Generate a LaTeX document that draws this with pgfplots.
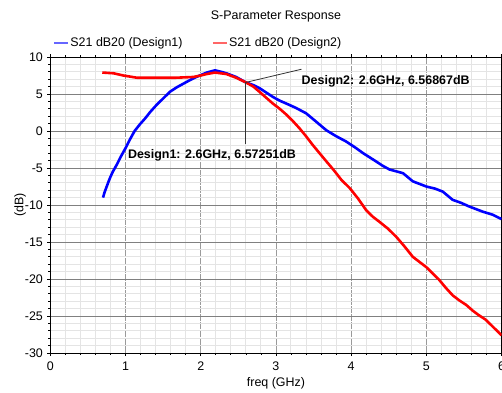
\documentclass[border=0pt]{standalone}
\usepackage{pgfplots}
\pgfplotsset{compat=1.18}
\usepackage{fontspec}
\setmainfont{Liberation Sans}
\definecolor{cblue}{RGB}{0,0,255}
\definecolor{cred}{RGB}{255,0,0}
\definecolor{minorgrid}{RGB}{228,228,228}
\definecolor{majorgrid}{RGB}{128,128,128}
\begin{document}
\begin{tikzpicture}[font=\fontsize{12.5}{15}\selectfont]
\begin{axis}[
  name=ax,
  scale only axis,
  width=451.1bp, height=296bp,
  xmin=0, xmax=6, ymin=-30, ymax=10,
  xtick={0,1,2,3,4,5,6},
  xticklabels={0,1,2,3,4,5,6},
  ytick={-30,-25,-20,-15,-10,-5,0,5,10},
  yticklabels={-30,-25,-20,-15,-10,-5,0,5,10},
  minor x tick num=4,
  minor y tick num=4,
  grid=both,
  minor x grid style={minorgrid, line width=1bp, solid},
  minor y grid style={minorgrid, line width=1bp, solid},
  major x grid style={majorgrid!80, line width=0.9bp, dash pattern=on 7bp off 1bp},
  major y grid style={majorgrid, line width=0.9bp, solid},
  axis line style={black, line width=0.9bp},
  tick align=outside,
  major tick length=3bp,
  minor tick length=2bp,
  tick style={black, line width=0.7bp},
  xticklabel style={font=\fontsize{12.5}{15}\selectfont, yshift=-2bp},
  yticklabel style={font=\fontsize{12.5}{15}\selectfont, xshift=-1bp},
  xlabel={freq (GHz)},
  ylabel={(dB)},
  xlabel style={at={(axis description cs:0.5,-0.101)}, anchor=center, font=\fontsize{12.5}{15}\selectfont},
  ylabel style={at={(axis description cs:-0.067,0.5)}, anchor=center, font=\fontsize{12.5}{15}\selectfont},
  title={S-Parameter Response},
  title style={at={(axis description cs:0.5,1.136)}, anchor=center, yshift=-6pt, font=\fontsize{12.5}{15}\selectfont},
  legend columns=2,
  legend style={at={(axis description cs:0.006,1.048)}, anchor=west, draw=none, fill=none,
    inner sep=0pt, font=\fontsize{12.5}{15}\selectfont,
    /tikz/every even column/.append style={column sep=28bp},
    nodes={inner sep=1.5bp}},
  legend cell align=left,
  legend image code/.code={\draw[#1, line width=1.6bp, opacity=0.6] (0bp,0bp) -- (14bp,0bp);},
]
\addplot[cblue, line width=2.6bp, line join=round] coordinates {
(0.70,-9.0) (0.72,-8.3) (0.76,-7.2) (0.79,-6.4) (0.83,-5.5) (0.88,-4.6)
(0.94,-3.4) (1.00,-2.3) (1.06,-1.1) (1.12,0.0) (1.19,0.9) (1.26,1.7)
(1.33,2.6) (1.41,3.5) (1.50,4.4) (1.59,5.3) (1.68,5.9) (1.77,6.4)
(1.86,6.9) (1.94,7.3) (2.01,7.6) (2.08,7.9) (2.19,8.2) (2.27,8.0)
(2.34,7.8) (2.47,7.3) (2.60,6.57) (2.70,6.2) (2.78,5.8) (2.87,5.2) (2.96,4.6)
(3.05,4.1) (3.14,3.7) (3.27,3.1) (3.40,2.4) (3.53,1.3) (3.67,0.1) (3.80,-0.7)
(3.93,-1.4) (4.05,-2.2) (4.16,-3.0) (4.33,-4.1) (4.42,-4.7)
(4.51,-5.2) (4.69,-5.7) (4.82,-6.8) (5.00,-7.5) (5.12,-7.8) (5.22,-8.2) (5.35,-9.3)
(5.46,-9.7) (5.57,-10.2) (5.75,-10.9) (5.88,-11.3) (6.00,-11.9)
};
\addlegendentry{S21 dB20 (Design1)}
\addplot[cred, line width=2.6bp, line join=round] coordinates {
(0.69,7.9) (0.84,7.8) (0.97,7.5) (1.15,7.2) (1.41,7.2) (1.67,7.2)
(1.90,7.3) (2.00,7.5) (2.08,7.7) (2.19,7.9) (2.34,7.7) (2.47,7.2) (2.60,6.57)
(2.70,6.0) (2.78,5.3) (2.87,4.5) (2.96,3.7) (3.05,3.0) (3.14,2.2) (3.22,1.4) (3.31,0.4)
(3.40,-0.7) (3.49,-1.9) (3.58,-3.0) (3.67,-4.1) (3.77,-5.3) (3.87,-6.6) (3.98,-7.7)
(4.09,-9.1) (4.20,-10.7) (4.29,-11.6) (4.38,-12.3) (4.49,-13.2) (4.60,-14.3)
(4.71,-15.6) (4.82,-17.0) (4.91,-17.7) (5.00,-18.4) (5.08,-19.2) (5.17,-20.1)
(5.26,-21.2) (5.35,-22.2) (5.44,-22.9) (5.53,-23.5) (5.62,-24.3) (5.70,-24.9)
(5.79,-25.5) (5.90,-26.6) (6.00,-27.6)
};
\addlegendentry{S21 dB20 (Design2)}
\draw[black!80, line width=0.8bp] (axis cs:2.6,6.57) -- (axis cs:2.6,-1.7);
\draw[black!80, line width=0.8bp] (axis cs:2.6,6.57) -- (axis cs:3.34,8.35);
\node[anchor=west, inner sep=0pt, font=\fontsize{12.5}{15}\selectfont\bfseries] at (axis cs:1.03,-3.25) {Design1: 2.6GHz, 6.57251dB};
\node[anchor=west, inner sep=0pt, font=\fontsize{12.5}{15}\selectfont\bfseries] at (axis cs:3.34,6.76) {Design2: 2.6GHz, 6.56867dB};
\end{axis}
\pgfresetboundingbox
\path ([xshift=-50.4bp,yshift=-39bp]ax.south west) rectangle ([xshift=0.5bp,yshift=57bp]ax.north east);
\end{tikzpicture}
\end{document}
